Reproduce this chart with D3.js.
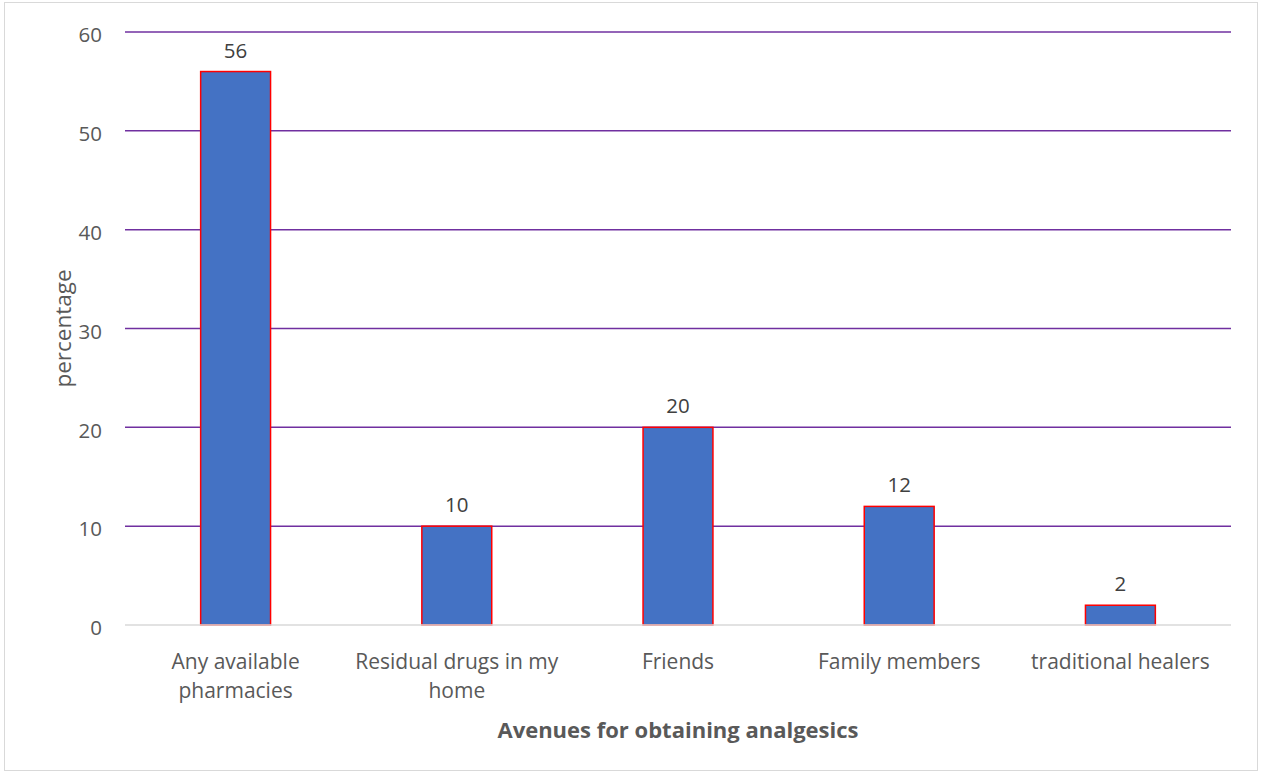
<!DOCTYPE html>
<html>
<head>
<meta charset="utf-8">
<script src="https://cdn.jsdelivr.net/npm/d3@7"></script>
<style>
  html, body { margin: 0; padding: 0; background: #fff; }
  svg { display: block; }
  text { font-family: "Open Sans", "Liberation Sans", sans-serif; }
</style>
</head>
<body>
<svg id="chart" width="1262" height="773"></svg>
<script>
// Avenues for obtaining analgesics (percentage of respondents)
const categories = [
  ["Any available", "pharmacies"],
  ["Residual drugs in my", "home"],
  ["Friends"],
  ["Family members"],
  ["traditional healers"]
];
const values = [56, 10, 20, 12, 2];
const yTicks = [0, 10, 20, 30, 40, 50, 60];
const yLabel = "percentage";
const xTitle = "Avenues for obtaining analgesics";

const svg = d3.select("#chart");
const W = 1262, H = 773;
const margin = { left: 125, right: 31, top: 32, bottom: 148 };

// outer chart frame
svg.append("rect")
  .attr("x", 4.5).attr("y", 2.5)
  .attr("width", W - 9).attr("height", H - 5)
  .attr("fill", "#fff").attr("stroke", "#d9d9d9").attr("stroke-width", 1);

const x = d3.scaleBand()
  .domain(d3.range(categories.length))
  .range([margin.left, W - margin.right])
  .paddingInner(0.684)
  .paddingOuter(0.342);

const y = d3.scaleLinear()
  .domain([0, 60])
  .range([H - margin.bottom, margin.top]);

// horizontal gridlines
svg.append("g").selectAll("line")
  .data(yTicks.filter(d => d > 0))
  .join("line")
  .attr("x1", margin.left).attr("x2", W - margin.right)
  .attr("y1", d => y(d)).attr("y2", d => y(d))
  .attr("stroke", "#7030a0").attr("stroke-width", 1.5);

// y tick labels
svg.append("g").selectAll("text")
  .data(yTicks)
  .join("text")
  .attr("x", 102).attr("y", d => y(d))
  .attr("dy", "0.5em")
  .attr("text-anchor", "end")
  .attr("fill", "#595959")
  .attr("font-size", 20.5)
  .text(d => d);

// bars
svg.append("g").selectAll("rect")
  .data(values)
  .join("rect")
  .attr("x", (d, i) => x(i))
  .attr("y", d => y(d))
  .attr("width", x.bandwidth())
  .attr("height", d => y(0) - y(d))
  .attr("fill", "#4472c4")
  .attr("stroke", "#ff0000")
  .attr("stroke-width", 1.5);

// baseline
svg.append("line")
  .attr("x1", margin.left).attr("x2", W - margin.right)
  .attr("y1", y(0)).attr("y2", y(0))
  .attr("stroke", "#d9d9d9").attr("stroke-width", 1.5);

// value labels
svg.append("g").selectAll("text")
  .data(values)
  .join("text")
  .attr("x", (d, i) => x(i) + x.bandwidth() / 2)
  .attr("y", d => y(d) - 14)
  .attr("text-anchor", "middle")
  .attr("fill", "#404040")
  .attr("font-size", 20.5)
  .text(d => d);

// category labels
const cat = svg.append("g").selectAll("text")
  .data(categories)
  .join("text")
  .attr("x", (d, i) => x(i) + x.bandwidth() / 2)
  .attr("y", 669)
  .attr("text-anchor", "middle")
  .attr("fill", "#595959")
  .attr("font-size", 21);
cat.selectAll("tspan")
  .data(d => d)
  .join("tspan")
  .attr("x", function () { return d3.select(this.parentNode).attr("x"); })
  .attr("dy", (d, i) => i === 0 ? 0 : 29)
  .text(d => d);

// axis titles
svg.append("text")
  .attr("transform", `translate(71, ${(y(0) + y(60)) / 2}) rotate(-90)`)
  .attr("text-anchor", "middle")
  .attr("fill", "#595959")
  .attr("font-size", 22.5)
  .text(yLabel);

svg.append("text")
  .attr("x", (margin.left + W - margin.right) / 2)
  .attr("y", 738)
  .attr("text-anchor", "middle")
  .attr("fill", "#595959")
  .attr("font-size", 22)
  .attr("font-weight", "bold")
  .text(xTitle);
</script>
</body>
</html>
